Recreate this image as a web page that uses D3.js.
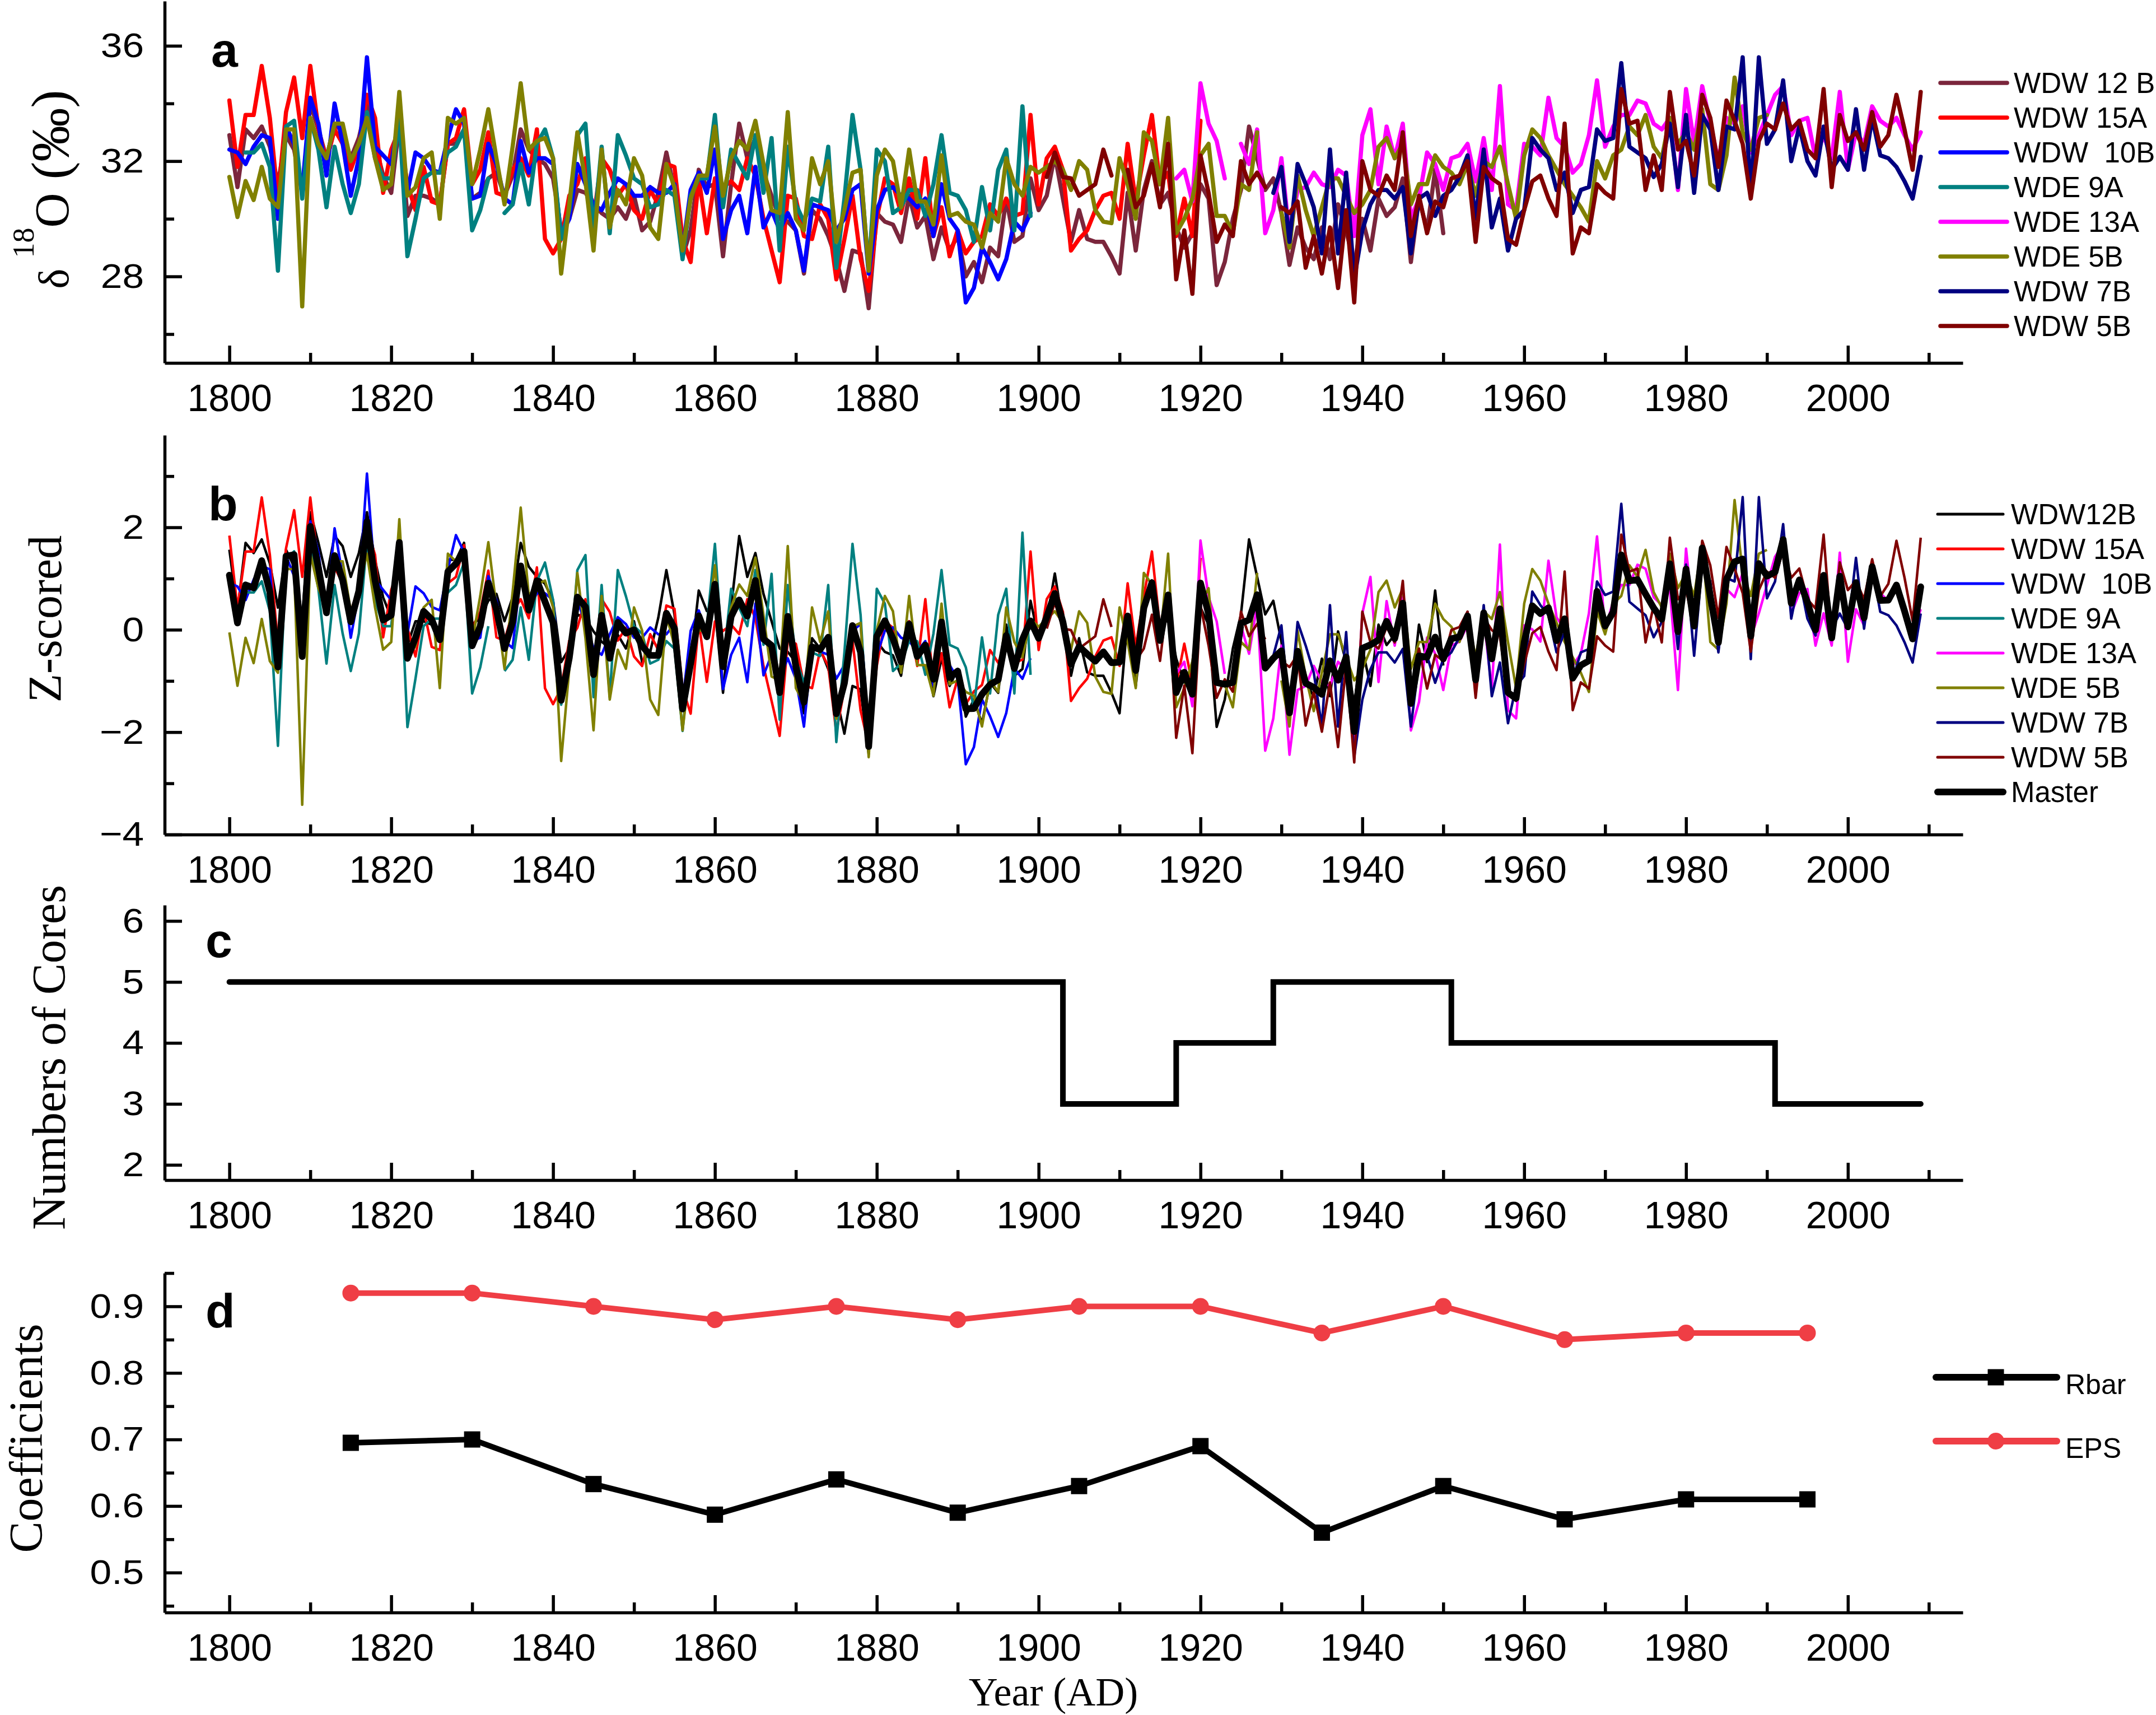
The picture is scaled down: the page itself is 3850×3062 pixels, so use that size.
<!DOCTYPE html>
<html>
<head>
<meta charset="utf-8">
<script src="https://cdn.jsdelivr.net/npm/d3@7/dist/d3.min.js"></script>
<style>
body{margin:0;background:#fff;}
.axis path,.axis line{stroke:#000;stroke-width:5.5px;}
.axis text{fill:#000;}
</style>
</head>
<body>
<div id="chart"></div>
<script>
// ---- data ----
// panel a: d18O per core, one value per year from the start year (null = gap)
var w12b_start=1800;
var w12b=[32.9,31.1,33.1,32.8,33.2,32.5,31.2,32.9,32.4,30.9,
	34.0,33.1,32.1,33.3,33.0,32.1,32.8,34.0,32.6,31.5,
	30.9,33.3,30.1,30.8,30.8,30.7,30.5,32.6,32.6,33.1,
	30.7,30.9,31.4,31.6,30.8,31.5,33.1,32.4,32.1,31.9,
	31.4,29.6,30.0,31.0,30.9,30.5,30.2,30.0,30.4,30.0,
	30.8,29.6,29.9,30.9,32.3,31.0,28.7,29.6,31.7,31.1,
	31.2,28.7,31.2,33.3,32.1,32.8,31.6,30.8,30.0,29.9,
	29.6,28.1,30.3,30.0,29.4,28.6,27.5,28.9,28.8,26.9,
	30.2,29.9,29.8,29.2,30.8,29.7,30.1,28.6,29.7,28.9,
	29.4,28.0,28.5,27.8,29.0,28.7,30.7,29.2,29.4,31.4,
	30.3,30.8,32.2,30.7,29.2,30.3,29.3,29.2,29.2,28.7,
	28.1,30.9,28.9,31.0,32.0,30.5,30.9,29.7,29.0,29.5,
	31.2,30.7,27.7,28.5,30.0,31.0,33.2,32.1,31.0,31.4,
	30.2,28.4,29.7,29.0,28.6,29.7,28.6,30.5,29.6,28.4,
	30.0,28.9,30.7,30.1,30.4,31.4,28.5,30.7,29.6,31.7,
	29.5];
var w15a_start=1800;
var w15a=[34.1,31.8,33.6,33.6,35.3,33.5,30.7,33.7,34.9,32.8,
	35.3,33.1,32.0,33.1,32.6,31.7,32.5,34.3,33.5,30.9,
	32.4,33.1,31.2,30.3,31.8,30.6,30.5,32.6,32.8,33.8,
	31.2,31.7,33.0,30.9,30.8,31.7,32.1,31.5,33.1,29.3,
	28.8,29.3,30.8,31.2,32.1,30.0,32.1,31.7,30.8,31.2,
	30.3,30.0,31.0,30.5,31.9,31.8,29.3,28.5,31.4,29.5,
	31.4,31.1,31.3,31.0,32.1,31.5,30.0,28.9,27.8,30.8,
	30.7,29.4,29.3,30.5,30.0,27.9,29.3,30.8,28.6,27.5,
	30.0,31.4,31.2,30.2,31.4,30.0,32.1,29.4,30.4,28.7,
	29.6,28.8,29.2,29.4,30.5,30.1,30.7,30.1,30.2,33.6,
	30.5,32.1,32.5,31.7,28.9,29.3,29.6,30.3,30.8,30.9,
	30.0,32.6,30.6,32.2,33.6,31.2,31.6,29.4,30.7,29.4,
	33.4];
var w10b_start=1800;
var w10b=[32.4,32.3,31.9,32.5,32.9,32.8,30.0,33.2,32.6,31.0,
	34.2,33.3,31.5,34.0,32.6,30.8,32.1,35.6,32.5,32.2,
	31.9,33.6,30.9,32.3,32.1,31.7,31.6,32.8,33.8,33.3,
	30.7,30.8,32.6,31.9,30.7,30.5,32.7,31.6,32.1,32.1,
	31.9,29.4,30.0,31.9,31.2,30.5,30.3,30.9,31.4,31.2,
	30.8,30.8,31.1,30.9,30.9,31.2,28.9,31.0,31.6,30.9,
	32.4,29.3,30.3,30.8,29.5,31.8,29.7,30.3,29.6,30.2,
	29.6,28.2,30.5,30.4,30.3,29.6,30.0,31.0,31.2,28.1,
	30.3,31.0,31.1,30.8,30.7,30.4,30.7,29.4,31.2,30.0,
	29.6,27.1,27.6,29.0,28.5,27.9,28.6,29.9,29.6,30.2];
var e9a_start=1802;
var e9a=[32.3,32.3,32.6,31.8,28.2,33.2,33.4,30.7,
	33.5,32.4,30.4,32.5,31.2,30.2,31.2,33.7,32.1,31.4,
	31.4,33.5,28.7,30.0,31.4,31.6,31.6,32.3,32.5,33.1,
	29.6,30.3,31.4,null,30.2,30.5,31.9,30.5,32.6,33.1,
	32.1,29.3,30.3,32.9,33.3,29.5,32.5,29.5,32.9,32.2,
	31.4,31.2,30.4,30.5,31.0,30.8,28.6,30.8,31.4,31.4,
	33.6,30.4,32.4,31.9,31.4,32.9,30.9,32.8,28.9,32.5,
	30.5,29.9,30.7,30.6,32.5,28.3,30.7,33.6,31.7,28.2,
	32.4,32.0,30.2,30.4,31.0,31.0,30.1,31.2,32.9,30.9,
	30.8,30.3,29.2,31.1,29.6,31.7,32.4,29.6,33.9,30.1];
var e13a_start=1917;
var e13a=[31.4,31.7,30.6,
	34.7,33.3,32.7,31.4,null,32.6,31.9,33.1,29.5,30.3,
	32.1,29.4,31.0,31.1,31.6,31.2,31.1,31.7,31.5,29.4,
	32.9,33.8,31.2,33.2,32.1,33.3,30.0,30.7,32.3,31.9,
	31.0,32.1,32.2,32.6,31.3,32.8,31.0,34.6,30.5,30.3,
	32.6,32.5,32.2,34.2,32.8,32.5,31.6,31.9,32.9,34.8,
	32.5,33.2,33.6,33.6,34.1,34.0,33.3,33.1,33.5,31.0,
	34.5,32.6,34.6,33.3,32.0,33.5,33.3,33.9,32.3,32.9,
	33.6,34.3,34.6,32.9,33.4,33.5,32.1,32.9,32.1,34.4,
	31.7,33.0,32.6,33.9,33.4,33.2,33.5,32.9,32.4,33.0];
var e5b_start=1800;
var e5b=[31.45,30.06,31.31,30.65,31.8,30.7,30.4,33.1,33.1,26.96,
	33.5,32.6,32.1,33.3,33.3,32.0,32.6,33.5,32.1,31.0,
	31.2,34.4,30.8,31.1,32.1,32.3,30.0,33.5,33.3,33.5,
	31.2,32.4,33.8,32.1,30.5,32.5,34.7,32.4,32.7,32.8,
	32.1,28.1,30.5,33.0,31.3,28.9,32.4,29.7,31.0,30.5,
	32.1,31.5,29.7,29.3,31.9,31.1,28.9,30.7,31.5,31.5,
	33.2,30.8,32.1,32.7,32.4,33.4,31.9,30.3,30.2,33.7,
	30.0,29.6,32.1,31.2,32.0,29.2,30.3,31.6,31.7,28.2,
	31.5,32.4,32.0,30.4,32.4,30.6,30.6,29.8,32.2,30.1,
	30.2,29.9,29.8,29.0,30.2,29.9,32.1,31.2,30.8,31.8,
	31.6,31.8,32.0,31.7,31.0,32.0,31.7,30.3,29.9,29.85,
	32.1,31.2,30.0,33.0,32.7,31.2,33.5,29.5,30.0,30.7,
	32.2,32.6,30.1,30.1,29.5,31.2,31.0,33.0,null,null,
	30.2,29.0,31.5,30.3,29.4,30.4,31.4,31.4,30.8,30.2,
	30.5,31.0,32.5,32.8,32.1,32.6,30.5,31.2,31.2,32.2,
	31.8,31.6,31.2,31.9,30.8,32.0,31.8,32.5,31.2,30.0,
	32.2,33.1,32.8,32.2,31.7,31.2,30.8,30.4,29.9,32.0,
	31.4,32.2,32.4,33.2,32.9,33.6,32.5,32.1,33.5,32.6,
	33.0,32.4,33.8,31.2,31.0,32.2,34.9,33.0,32.4,33.5,
	33.6];
var w7b_start=1929;
var w7b=[30.9,
	31.8,29.2,31.9,31.2,30.4,28.8,32.4,28.8,31.6,27.9,
	29.6,30.5,31.0,31.0,30.7,31.1,28.8,30.7,30.9,30.1,
	30.8,31.0,31.45,32.2,30.0,32.4,29.7,30.7,28.9,30.0,
	30.3,32.8,32.4,32.1,31.0,31.6,30.2,31.0,31.1,33.1,
	32.7,32.8,35.4,32.5,32.3,32.1,31.45,31.9,33.3,31.1,
	33.6,30.9,33.6,33.1,31.0,33.2,33.1,35.6,30.8,35.6,
	32.6,33.1,34.8,32.0,33.2,32.0,31.5,33.2,31.7,32.15,
	31.7,33.8,31.7,33.5,32.2,32.1,31.8,31.3,30.7,32.15];
var w5b_start=1901;
var w5b=[31.45,32.3,31.45,31.4,30.8,31.0,31.2,32.4,31.5,
	null,31.7,30.4,30.8,31.9,30.4,32.6,27.9,29.6,27.4,
	32.2,30.9,29.2,29.8,29.4,32.0,31.2,31.6,31.1,null,
	30.4,30.2,30.6,28.3,29.4,28.1,29.7,27.6,30.3,27.1,
	32.0,31.0,30.8,31.5,31.0,33.0,29.4,30.8,29.5,30.6,
	30.4,31.4,31.5,32.0,29.2,31.8,31.4,31.2,29.3,29.1,
	30.3,31.3,31.5,30.7,30.1,33.3,28.8,29.7,29.5,31.2,
	30.9,30.7,34.5,33.3,33.4,31.0,32.2,31.0,34.4,32.4,
	32.7,31.5,34.3,33.5,31.8,34.1,33.4,32.6,30.7,32.7,
	33.3,33.1,34.0,33.1,33.4,32.4,32.1,34.5,31.1,33.6,
	32.7,33.0,32.4,33.7,32.5,32.9,34.3,33.1,31.7,34.4];

var names_a=["WDW 12 B","WDW 15A","WDW  10B","WDE 9A","WDE 13A","WDE 5B","WDW 7B","WDW 5B"];
var names_b=["WDW12B","WDW 15A","WDW  10B","WDE 9A","WDE 13A","WDE 5B","WDW 7B","WDW 5B"];
var colors_a=["#7b263c","#ff0000","#0000ff","#008080","#ff00ff","#808000","#000080","#800000"];
var colors_b=["#000000","#ff0000","#0000ff","#008080","#ff00ff","#808000","#000080","#800000"];

// panel c: number of cores (step changes)
var core_years=[1800,1903,1917,1929,1951,1991,2009];
var core_counts=[5,3,4,5,4,3,3];

// panel d: running statistics
var coef_years=[1815,1830,1845,1860,1875,1890,1905,1920,1935,1950,1965,1980,1995];
var eps=[0.92,0.92,0.90,0.88,0.90,0.88,0.90,0.90,0.86,0.90,0.85,0.86,0.86];
var rbar=[0.695,0.70,0.633,0.587,0.64,0.59,0.63,0.69,0.56,0.63,0.58,0.61,0.61];

// tick values
var x_major=d3.range(1800,2001,20);
var x_minor=d3.range(1810,2011,20);
var ya_major=[28,32,36], ya_minor=[26,30,34];
var yb_major=[-4,-2,0,2], yb_minor=[-3,-1,1,3];
var yc_major=[2,3,4,5,6];
var yd_major=[0.5,0.6,0.7,0.8,0.9], yd_minor=[0.45,0.55,0.65,0.75,0.85,0.95];

// ---- build ----
var starts=[w12b_start,w15a_start,w10b_start,e9a_start,e13a_start,e5b_start,w7b_start,w5b_start];
var raw=[w12b,w15a,w10b,e9a,e13a,e5b,w7b,w5b];
var series=raw.map(function(vals,k){
	return vals.map(function(v,i){return {year:starts[k]+i,v:v};});
});

// panel b: each core standardised, master = mean of available z-scores
var zseries=series.map(function(s){
	var ok=s.filter(function(d){return d.v!=null;});
	var m=d3.mean(ok,function(d){return d.v;});
	var sd=d3.deviation(ok,function(d){return d.v;});
	return s.map(function(d){return {year:d.year,v:d.v==null?null:(d.v-m)/sd};});
});
var master=d3.range(1800,2010).map(function(yr){
	var vals=[];
	zseries.forEach(function(s){
		s.forEach(function(d){if(d.year==yr&&d.v!=null)vals.push(d.v);});
	});
	return {year:yr,v:vals.length?d3.mean(vals):null};
});

var W=3850,H=3062;
var svg=d3.select("#chart").append("svg")
	.attr("width",W)
	.attr("height",H)
	.style("background","#fff");

var sans="Liberation Sans, Arial, sans-serif";
var serif="Liberation Serif, Times New Roman, serif";

var x=d3.scaleLinear().domain([1792,2014.2]).range([294,3505]);
var ya=d3.scaleLinear().domain([25,37.55]).range([648,2]);
var yb=d3.scaleLinear().domain([-4,3.8]).range([1490,777]);
var yc=d3.scaleLinear().domain([1.75,6.26]).range([2107,1616]);
var yd=d3.scaleLinear().domain([0.44,0.95]).range([2879,2273]);

function xAxis(y0)
{
	svg.append("g")
		.attr("class","axis")
		.attr("transform","translate(0,"+y0+")")
		.call(d3.axisBottom(x).tickValues(x_minor).tickFormat("").tickSizeInner(-18).tickSizeOuter(0))
		.call(function(g){g.select(".domain").remove();});
	svg.append("g")
		.attr("class","axis")
		.attr("transform","translate(0,"+y0+")")
		.call(d3.axisBottom(x).tickValues(x_major).tickFormat(d3.format("d")).tickSizeInner(-31).tickSizeOuter(0).tickPadding(38))
		.attr("font-size",68)
		.attr("font-family",sans);
}

function yAxis(scale,major,minor,fmt)
{
	if(minor){
		svg.append("g")
			.attr("class","axis")
			.attr("transform","translate(294,0)")
			.call(d3.axisLeft(scale).tickValues(minor).tickFormat("").tickSizeInner(-17).tickSizeOuter(0))
			.call(function(g){g.select(".domain").remove();});
	}
	var g=svg.append("g")
		.attr("class","axis")
		.attr("transform","translate(294,0)")
		.call(d3.axisLeft(scale).tickValues(major).tickFormat(fmt).tickSizeInner(-31).tickSizeOuter(0).tickPadding(33))
		.attr("font-size",62)
		.attr("font-family",sans);
	g.selectAll("text").attr("transform","scale(1.12,1)");
}

function letter(t,x0,y0)
{
	svg.append("text")
		.attr("x",x0)
		.attr("y",y0)
		.style("font-family",sans)
		.style("font-weight","bold")
		.style("font-size","86px")
		.text(t);
}

function ytitle(t,x0,y0)
{
	svg.append("text")
		.attr("transform","translate("+x0+","+y0+") rotate(-90)")
		.attr("text-anchor","middle")
		.style("font-family",serif)
		.style("font-size","84px")
		.text(t);
}

// ---- panel a ----
var line_a=d3.line()
	.defined(function(d){return d.v!=null;})
	.x(function(d){return x(d.year);})
	.y(function(d){return ya(d.v);});
series.forEach(function(s,k){
	svg.append("path")
		.datum(s)
		.attr("d",line_a)
		.attr("fill","none")
		.attr("stroke",colors_a[k])
		.attr("stroke-width",7.5)
		.attr("stroke-linejoin","round")
		.attr("stroke-linecap","round");
});
xAxis(648);
yAxis(ya,ya_major,ya_minor,d3.format("d"));
letter("a",377,119);

var ta=svg.append("text")
	.attr("transform","translate(122,338) rotate(-90)")
	.attr("text-anchor","middle")
	.style("font-family",serif);
ta.append("tspan").style("font-size","76px").text("\u03b4 ");
ta.append("tspan").style("font-size","54px").attr("dy",-62).text("18");
ta.append("tspan").style("font-size","86px").attr("dy",62).text("O");
ta.append("tspan").style("font-size","96px").text(" (\u2030)");

names_a.forEach(function(n,k){
	var yy=148+k*62;
	svg.append("line")
		.attr("x1",3465).attr("x2",3584)
		.attr("y1",yy).attr("y2",yy)
		.attr("stroke",colors_a[k])
		.attr("stroke-width",7.5)
		.attr("stroke-linecap","round");
	svg.append("text")
		.attr("x",3596)
		.attr("y",yy+18)
		.attr("xml:space","preserve")
		.style("white-space","pre")
		.style("font-family",sans)
		.style("font-size","51px")
		.text(n);
});

// ---- panel b ----
var line_b=d3.line()
	.defined(function(d){return d.v!=null;})
	.x(function(d){return x(d.year);})
	.y(function(d){return yb(d.v);});
zseries.forEach(function(s,k){
	svg.append("path")
		.datum(s)
		.attr("d",line_b)
		.attr("fill","none")
		.attr("stroke",colors_b[k])
		.attr("stroke-width",4.5)
		.attr("stroke-linejoin","round");
});
svg.append("path")
	.datum(master)
	.attr("d",line_b)
	.attr("fill","none")
	.attr("stroke","#000")
	.attr("stroke-width",12)
	.attr("stroke-linejoin","round")
	.attr("stroke-linecap","round");
xAxis(1490);
yAxis(yb,yb_major,yb_minor,d3.format("d"));
letter("b",372,929);
ytitle("Z-scored",109,1105);

names_b.concat(["Master"]).forEach(function(n,k){
	var yy=918+k*62;
	svg.append("line")
		.attr("x1",3460).attr("x2",3577)
		.attr("y1",yy).attr("y2",yy)
		.attr("stroke",k<8?colors_b[k]:"#000")
		.attr("stroke-width",k<8?5:12)
		.attr("stroke-linecap","round");
	svg.append("text")
		.attr("x",3591)
		.attr("y",yy+18)
		.attr("xml:space","preserve")
		.style("white-space","pre")
		.style("font-family",sans)
		.style("font-size","51px")
		.text(n);
});

// ---- panel c ----
var cores=core_years.map(function(yr,i){return {year:yr,v:core_counts[i]};});
svg.append("path")
	.datum(cores)
	.attr("d",d3.line().curve(d3.curveStepAfter)
		.x(function(d){return x(d.year);})
		.y(function(d){return yc(d.v);}))
	.attr("fill","none")
	.attr("stroke","#000")
	.attr("stroke-width",10)
	.attr("stroke-linecap","round");
xAxis(2107);
yAxis(yc,yc_major,null,d3.format("d"));
letter("c",367,1709);
ytitle("Numbers of Cores",116,1888);

// ---- panel d ----
var eps_pts=coef_years.map(function(yr,i){return {year:yr,v:eps[i]};});
var rbar_pts=coef_years.map(function(yr,i){return {year:yr,v:rbar[i]};});
var line_d=d3.line()
	.x(function(d){return x(d.year);})
	.y(function(d){return yd(d.v);});
var eps_col="#ef3e45";
svg.append("path")
	.datum(eps_pts)
	.attr("d",line_d)
	.attr("fill","none")
	.attr("stroke",eps_col)
	.attr("stroke-width",10);
svg.selectAll(".epsdot")
	.data(eps_pts)
	.enter().append("circle")
	.attr("class","epsdot")
	.attr("cx",function(d){return x(d.year);})
	.attr("cy",function(d){return yd(d.v);})
	.attr("r",15)
	.attr("fill",eps_col);
svg.append("path")
	.datum(rbar_pts)
	.attr("d",line_d)
	.attr("fill","none")
	.attr("stroke","#000")
	.attr("stroke-width",10);
svg.selectAll(".rbardot")
	.data(rbar_pts)
	.enter().append("rect")
	.attr("class","rbardot")
	.attr("x",function(d){return x(d.year)-14.5;})
	.attr("y",function(d){return yd(d.v)-14.5;})
	.attr("width",29)
	.attr("height",29)
	.attr("fill","#000");
xAxis(2879);
yAxis(yd,yd_major,yd_minor,d3.format(".1f"));
letter("d",367,2370);
ytitle("Coefficients",75,2568);

// legend d
var leg_d=[{name:"Rbar",col:"#000",y:2459,sq:true},{name:"EPS",col:eps_col,y:2573,sq:false}];
leg_d.forEach(function(l){
	svg.append("line")
		.attr("x1",3457).attr("x2",3673)
		.attr("y1",l.y).attr("y2",l.y)
		.attr("stroke",l.col)
		.attr("stroke-width",12)
		.attr("stroke-linecap","round");
	if(l.sq){
		svg.append("rect")
			.attr("x",3564-14.5).attr("y",l.y-14.5)
			.attr("width",29).attr("height",29)
			.attr("fill",l.col);
	}else{
		svg.append("circle")
			.attr("cx",3564).attr("cy",l.y)
			.attr("r",15)
			.attr("fill",l.col);
	}
	svg.append("text")
		.attr("x",3688)
		.attr("y",l.y+30)
		.style("font-family",sans)
		.style("font-size","50px")
		.text(l.name);
});

svg.append("text")
	.attr("x",1881)
	.attr("y",3045)
	.attr("text-anchor","middle")
	.style("font-family",serif)
	.style("font-size","72px")
	.text("Year (AD)");
</script>
</body>
</html>
